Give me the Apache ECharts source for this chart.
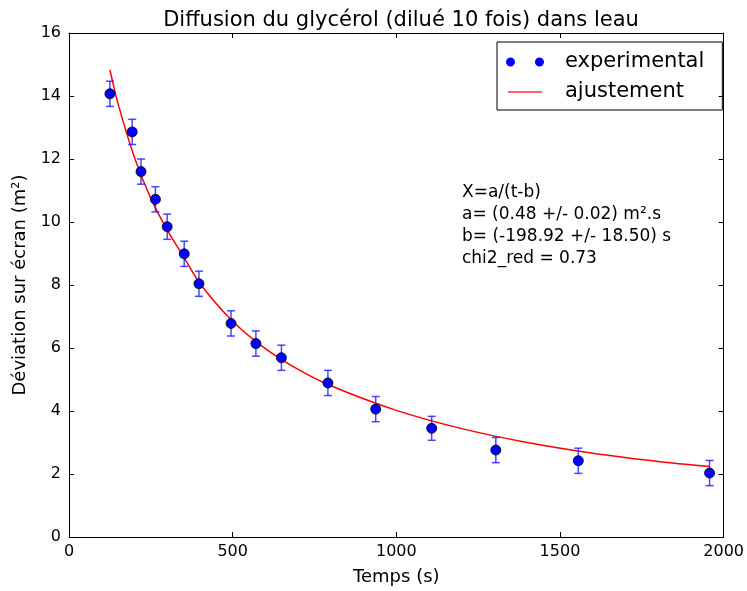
<!DOCTYPE html>
<html><head><meta charset="utf-8">
<script src="https://cdn.jsdelivr.net/npm/echarts@6/dist/echarts.min.js"></script>
<style>html,body{margin:0;padding:0;background:#fff}#c{width:747px;height:591px}</style>
</head><body><div id="c"></div>
<script>
const timeS = [125, 193, 220, 264, 300, 352, 397, 495, 571, 649, 791, 937, 1108, 1304, 1556, 1957];
const deviation = [14.07, 12.86, 11.60, 10.72, 9.85, 8.99, 8.04, 6.78, 6.14, 5.69, 4.89, 4.06, 3.45, 2.76, 2.42, 2.03];
const errorBar = [0.4, 0.4, 0.4, 0.4, 0.4, 0.4, 0.4, 0.4, 0.4, 0.4, 0.4, 0.4, 0.38, 0.4, 0.4, 0.4];
// Fitted curve
const fitTime = [125, 150, 200, 250, 300, 350, 400, 500, 600, 700, 800, 1000, 1200, 1400, 1600, 1800, 1957];
const fitValue = [14.83, 13.75, 12.05, 10.75, 9.75, 8.9, 8.05, 6.85, 5.98, 5.32, 4.8, 4.02, 3.44, 3.0, 2.66, 2.4, 2.24];
// Axis ranges / ticks
const xRange = [0, 2000, 500];
const yRange = [0, 16, 2];
const annotation = ['X=a/(t-b)', 'a= (0.48 +/- 0.02) m\u00b2.s', 'b= (-198.92 +/- 18.50) s', 'chi2_red = 0.73'];

const FONT = 'DejaVu Sans';
const expData = timeS.map((t, i) => [t, deviation[i]]);
const errData = timeS.map((t, i) => [t, deviation[i], errorBar[i]]);
const fitData = fitTime.map((t, i) => [t, fitValue[i]]);

const axisCommon = {
  axisLine: { show: true, onZero: false, lineStyle: { color: '#000', width: 1 } },
  axisTick: { show: true, inside: true, length: 5, lineStyle: { color: '#000' } },
  splitLine: { show: false }
};
const plainNum = v => String(v);

const chart = echarts.init(document.getElementById('c'), null, { renderer: 'canvas' });
chart.setOption({
  animation: false,
  backgroundColor: '#fff',
  title: {
    text: 'Diffusion du glyc\u00e9rol (dilu\u00e9 10 fois) dans leau',
    left: 396, top: 5, textAlign: 'center',
    textStyle: { fontFamily: FONT, fontSize: 21, fontWeight: 'normal', color: '#000' }
  },
  grid: { left: 69, right: 23, top: 33, bottom: 53, containLabel: false },
  legend: {
    orient: 'vertical', left: 497, top: 42,
    padding: [8, 18, 6, 9],
    borderColor: '#000', borderWidth: 1, borderRadius: 0,
    itemWidth: 38, itemHeight: 9, itemGap: 6,
    textStyle: { fontFamily: FONT, fontSize: 21, color: '#000', padding: [0, 0, 0, 16], lineHeight: 24 },
    data: [
      { name: 'experimental', icon: 'path://M0,4.5a4.5,4.5 0 1,0 9,0a4.5,4.5 0 1,0 -9,0ZM29,4.5a4.5,4.5 0 1,0 9,0a4.5,4.5 0 1,0 -9,0Z', itemStyle: { color: '#0000ff', borderWidth: 0 } },
      { name: 'ajustement', icon: 'path://M0,0M38,9M2,3.8L36,3.8L36,5.2L2,5.2Z', itemStyle: { color: '#ff3333', borderWidth: 0 } }
    ]
  },
  xAxis: [
    Object.assign({
      type: 'value', min: xRange[0], max: xRange[1], interval: xRange[2], position: 'bottom',
      name: 'Temps (s)', nameLocation: 'middle', nameGap: 31,
      nameTextStyle: { fontFamily: FONT, fontSize: 18, color: '#000' },
      axisLabel: { fontFamily: FONT, fontSize: 16, color: '#000', margin: 7, formatter: plainNum }
    }, axisCommon),
    Object.assign({
      type: 'value', min: xRange[0], max: xRange[1], interval: xRange[2], position: 'top',
      axisLabel: { show: false }
    }, axisCommon)
  ],
  yAxis: [
    Object.assign({
      type: 'value', min: yRange[0], max: yRange[1], interval: yRange[2], position: 'left',
      name: 'D\u00e9viation sur \u00e9cran (m\u00b2)', nameLocation: 'middle', nameGap: 39,
      nameTextStyle: { fontFamily: FONT, fontSize: 18, color: '#000' },
      axisLabel: { fontFamily: FONT, fontSize: 16, color: '#000', margin: 8, formatter: plainNum }
    }, axisCommon),
    Object.assign({
      type: 'value', min: yRange[0], max: yRange[1], interval: yRange[2], position: 'right',
      axisLabel: { show: false }
    }, axisCommon)
  ],
  series: [
    {
      name: 'ajustement', type: 'line', data: fitData, smooth: 0.3,
      symbol: 'none', lineStyle: { color: '#ff0000', width: 1.5 }, itemStyle: { color: '#ff0000' },
      z: 2
    },
    {
      name: 'errors', type: 'custom', data: errData, z: 3,
      renderItem: function (params, api) {
        const x = api.value(0), y = api.value(1), e = api.value(2);
        const top = api.coord([x, y + e]);
        const bot = api.coord([x, y - e]);
        const cw = 4;
        const st = { stroke: 'rgba(40,40,255,0.85)', lineWidth: 1.5 };
        return {
          type: 'group',
          children: [
            { type: 'line', shape: { x1: top[0], y1: top[1], x2: bot[0], y2: bot[1] }, style: st },
            { type: 'line', shape: { x1: top[0] - cw, y1: top[1], x2: top[0] + cw, y2: top[1] }, style: st },
            { type: 'line', shape: { x1: bot[0] - cw, y1: bot[1], x2: bot[0] + cw, y2: bot[1] }, style: st }
          ]
        };
      }
    },
    {
      name: 'experimental', type: 'scatter', data: expData, symbol: 'circle', symbolSize: 10,
      itemStyle: { color: '#0000ff', borderColor: '#000', borderWidth: 0.8, opacity: 1 },
      z: 4
    }
  ],
  graphic: [
    {
      type: 'text', left: 462, top: 182,
      style: { text: annotation.join('\n'), fontFamily: FONT, fontSize: 17, lineHeight: 22, fill: '#000' }
    }
  ]
});
</script></body></html>
